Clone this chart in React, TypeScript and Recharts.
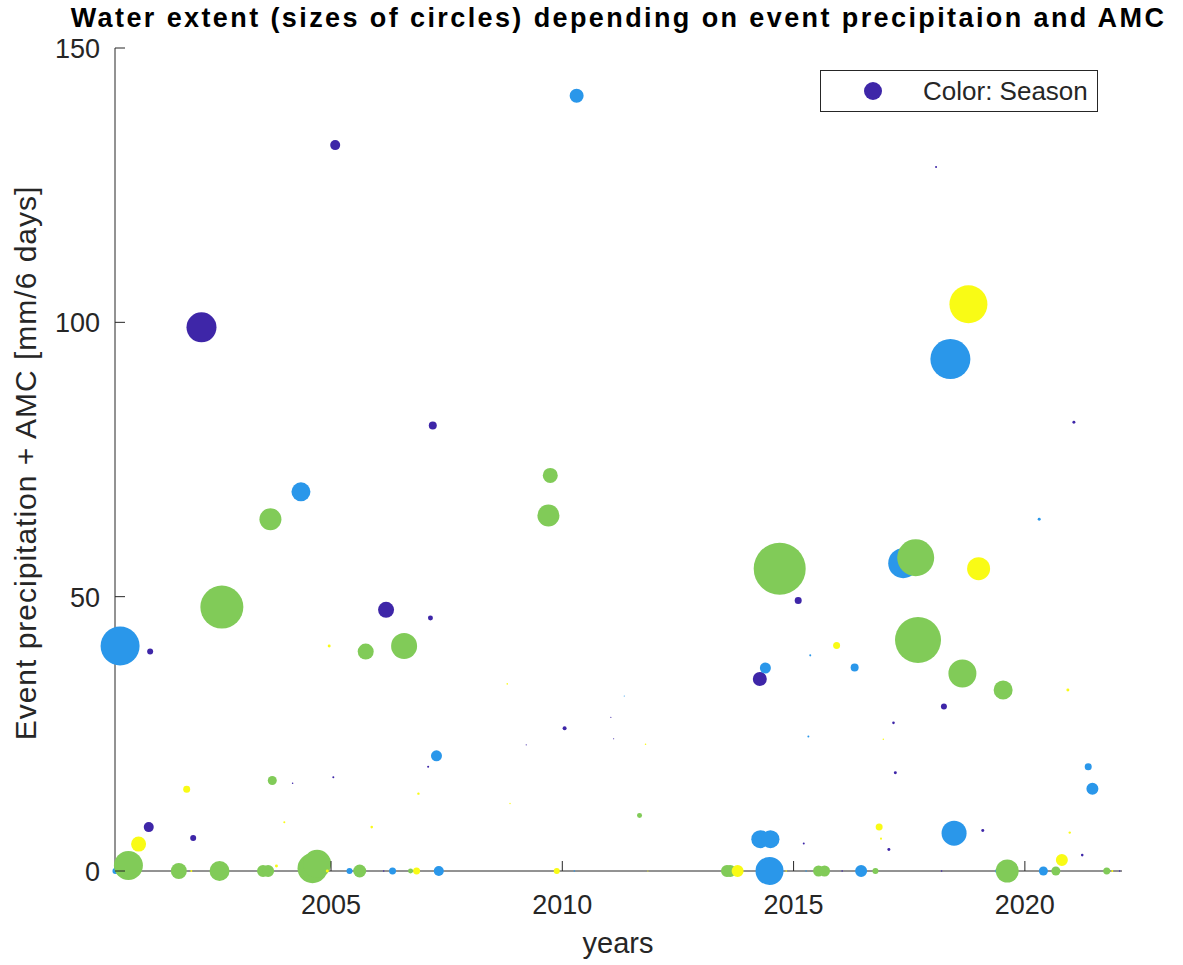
import { ScatterChart, Scatter, XAxis, YAxis, ZAxis, Cell } from "recharts";

// event date (decimal year)
const years = [
  2000.34, 2000.44, 2000.62, 2000.84, 2001.06, 2001.09, 2001.71, 2001.88, 2001.98, 2002.02,
  2002.2, 2002.59, 2002.64, 2003.53, 2003.64, 2003.69, 2003.73, 2003.82, 2003.99, 2004.17,
  2004.35, 2004.6, 2004.7, 2004.92, 2004.96, 2005.05, 2005.09, 2005.4, 2005.62, 2005.75,
  2005.88, 2006.14, 2006.19, 2006.33, 2006.58, 2006.72, 2006.85, 2006.89, 2007.1, 2007.15,
  2007.2, 2007.28, 2007.33, 2008.81, 2008.87, 2009.22, 2009.7, 2009.74, 2009.88, 2010.05,
  2010.31, 2010.26, 2011.05, 2011.11, 2011.34, 2011.67, 2011.8, 2011.85, 2013.56, 2013.63,
  2013.79, 2014.27, 2014.28, 2014.39, 2014.48, 2014.5, 2014.7, 2014.84, 2015.1, 2015.22,
  2015.27, 2015.32, 2015.36, 2015.54, 2015.67, 2016.05, 2015.93, 2016.32, 2016.46, 2016.77,
  2016.85, 2016.89, 2016.94, 2017.06, 2017.16, 2017.2, 2017.37, 2017.64, 2017.69, 2018.08,
  2018.2, 2018.25, 2018.39, 2018.47, 2018.65, 2018.78, 2019.0, 2019.09, 2019.4, 2019.53,
  2019.62, 2020.31, 2020.4, 2020.67, 2020.8, 2020.93, 2020.97, 2021.06, 2021.24, 2021.37,
  2021.46, 2021.77, 2021.89, 2022.05,
];

// event precipitation + AMC [mm/6 days]
const precip = [
  0, 41.0, 1.0, 4.9, 8.0, 40.0, 0, 14.9, 0, 6.0,
  99.1, 0, 48.1, 0, 0, 64.1, 16.5, 0.9, 8.9, 16.0,
  69.1, 0.5, 1.3, 0, 41.0, 17.1, 132.3, 0, 0, 40.0,
  8.0, 0, 47.6, 0, 41.0, 0, 0, 14.1, 19.0, 46.1,
  81.2, 21.0, 0, 34.1, 12.3, 23.0, 64.8, 72.1, 0, 26.0,
  141.3, 0, 28.0, 24.1, 31.9, 10.1, 23.1, 0, 0, 0,
  0, 35.0, 5.8, 37.0, 0, 5.8, 55.1, 0, 49.3, 5.0,
  0, 24.5, 39.3, 0, 0, 0, 41.1, 37.1, 0, 0,
  8.0, 5.9, 24.0, 3.9, 27.0, 17.9, 56.1, 57.1, 42.1, 128.3,
  0, 30.0, 93.3, 6.9, 36.0, 103.3, 55.1, 7.4, 0, 33.0,
  0, 64.1, 0, 0, 2.0, 33.0, 7.0, 81.8, 2.9, 19.0,
  15.0, 0, 0, 0,
];

// water extent (relative, 0-100)
const extent = [
  1.33, 56.25, 31.1, 8.32, 3.7, 1.33, 9.47, 1.81, 0.15, 1.33,
  33.28, 14.79, 68.38, 5.33, 5.33, 17.9, 3.0, 0.33, 0.15, 0.09,
  13.35, 33.28, 29, 0.33, 0.33, 0.15, 3.7, 1.33, 6.25, 9.47,
  0.25, 0.09, 9.47, 1.81, 25, 0.92, 1.81, 0.21, 0.15, 0.92,
  2.37, 4.47, 3.7, 0.09, 0.07, 0.05, 17.9, 8.32, 1.33, 0.59,
  7.25, 0.09, 0.05, 0.05, 0.05, 0.92, 0.09, 0.05, 5.33, 5.33,
  5.33, 7.25, 11.98, 4.47, 29, 11.98, 100, 0.09, 1.81, 0.15,
  0.09, 0.15, 0.15, 4.47, 4.47, 0.09, 1.81, 2.37, 5.33, 1.33,
  1.81, 0.15, 0.09, 0.33, 0.25, 0.33, 33.28, 50.63, 78.25, 0.15,
  0.09, 1.33, 59.17, 23.11, 29, 53.4, 19.56, 0.33, 0.59, 13.35,
  19.56, 0.33, 3.0, 3.0, 5.33, 0.33, 0.21, 0.33, 0.25, 1.81,
  5.33, 1.81, 0.15, 0.09,
];

// season index 1..4
const season = [
  2, 2, 3, 4, 1, 1, 3, 4, 4, 1,
  1, 3, 3, 3, 3, 3, 3, 4, 4, 1,
  2, 3, 3, 4, 4, 1, 1, 2, 3, 3,
  4, 1, 1, 2, 3, 3, 4, 4, 1, 1,
  1, 2, 2, 4, 4, 1, 3, 3, 4, 1,
  2, 2, 1, 1, 2, 3, 4, 4, 3, 3,
  4, 1, 2, 2, 2, 2, 3, 4, 1, 1,
  2, 2, 2, 3, 3, 1, 4, 2, 2, 3,
  4, 4, 4, 1, 1, 1, 2, 3, 3, 1,
  1, 1, 2, 2, 3, 4, 4, 1, 2, 3,
  3, 2, 2, 3, 4, 4, 4, 1, 1, 2,
  2, 3, 4, 1,
];

const yearTicks = [2005, 2010, 2015, 2020];
const precipTicks = [0, 50, 100, 150];

const seasonColors: Record<number, string> = {
  1: "#3E26A8",
  2: "#2A97EA",
  3: "#81CB58",
  4: "#F9FB15",
};

const rows = years.map((y, i) => ({
  year: y,
  precip: precip[i],
  extent: extent[i],
  season: season[i],
}));

const FONT = "'Liberation Sans', Arial, Helvetica, sans-serif";
const INK = "#262626";

const XTick = ({ x, y, payload }: any) => (
  <g>
    <line x1={x} x2={x} y1={y} y2={y - 10} stroke={INK} strokeWidth={1} />
    <text x={x} y={y + 43} textAnchor="middle" fontSize={27} fill={INK} fontFamily={FONT}>
      {payload.value}
    </text>
  </g>
);

const YTick = ({ x, y, payload }: any) => (
  <g>
    <line x1={x} x2={x + 10} y1={y} y2={y} stroke={INK} strokeWidth={1} />
    <text x={x - 15} y={y + 10} textAnchor="end" fontSize={27} fill={INK} fontFamily={FONT}>
      {payload.value}
    </text>
  </g>
);

const SeasonLegend = () => (
  <div
    style={{
      position: "absolute",
      left: 820,
      top: 70,
      width: 276,
      height: 40,
      border: "1px solid #262626",
      background: "#fff",
      fontFamily: FONT,
    }}
  >
    <svg width={30} height={30} style={{ position: "absolute", left: 37, top: 5 }}>
      <circle cx={15} cy={15} r={9} fill={seasonColors[1]} />
    </svg>
    <span
      style={{
        position: "absolute",
        left: 102,
        top: 5,
        fontSize: 26,
        lineHeight: "30px",
        color: INK,
        whiteSpace: "nowrap",
      }}
    >
      Color: Season
    </span>
  </div>
);

export default function App() {
  return (
    <div style={{ position: "absolute", left: 0, top: 0, width: 1183, height: 965, background: "#fff" }}>
      <div
        style={{
          position: "absolute",
          left: 0,
          width: 1237,
          top: 3,
          textAlign: "center",
          fontFamily: FONT,
          fontWeight: "bold",
          fontSize: 27,
          letterSpacing: 2.4,
          color: "#000",
          whiteSpace: "nowrap",
        }}
      >
        Water extent (sizes of circles) depending on event precipitaion and AMC
      </div>
      <ScatterChart
        width={1183}
        height={965}
        margin={{ top: 48, right: 61, bottom: 34, left: 55 }}
      >
        <XAxis
          type="number"
          dataKey="year"
          domain={[2000.33, 2022.1]}
          ticks={yearTicks}
          tick={<XTick />}
          tickSize={0}
          tickMargin={0}
          tickLine={false}
          height={60}
          axisLine={{ stroke: INK, strokeWidth: 1 }}
          label={() => (
            <text x={618} y={953} textAnchor="middle" fontSize={29} fill={INK} fontFamily={FONT}>
              years
            </text>
          )}
        />
        <YAxis
          type="number"
          dataKey="precip"
          domain={[0, 150]}
          ticks={precipTicks}
          tick={<YTick />}
          tickSize={0}
          tickMargin={0}
          tickLine={false}
          width={60}
          axisLine={{ stroke: INK, strokeWidth: 1 }}
          label={() => (
            <text
              x={36}
              y={463}
              transform="rotate(-90 36 463)"
              textAnchor="middle"
              fontSize={30}
              letterSpacing={1}
              fill={INK}
              fontFamily={FONT}
            >
              Event precipitation + AMC [mm/6 days]
            </text>
          )}
        />
        <ZAxis type="number" dataKey="extent" domain={[0, 100]} range={[0, 2124]} />
        <Scatter data={rows} shape="circle" isAnimationActive={false} zIndex={800}>
          {rows.map((r, i) => (
            <Cell key={i} fill={seasonColors[r.season]} />
          ))}
        </Scatter>
      </ScatterChart>
      <SeasonLegend />
    </div>
  );
}
